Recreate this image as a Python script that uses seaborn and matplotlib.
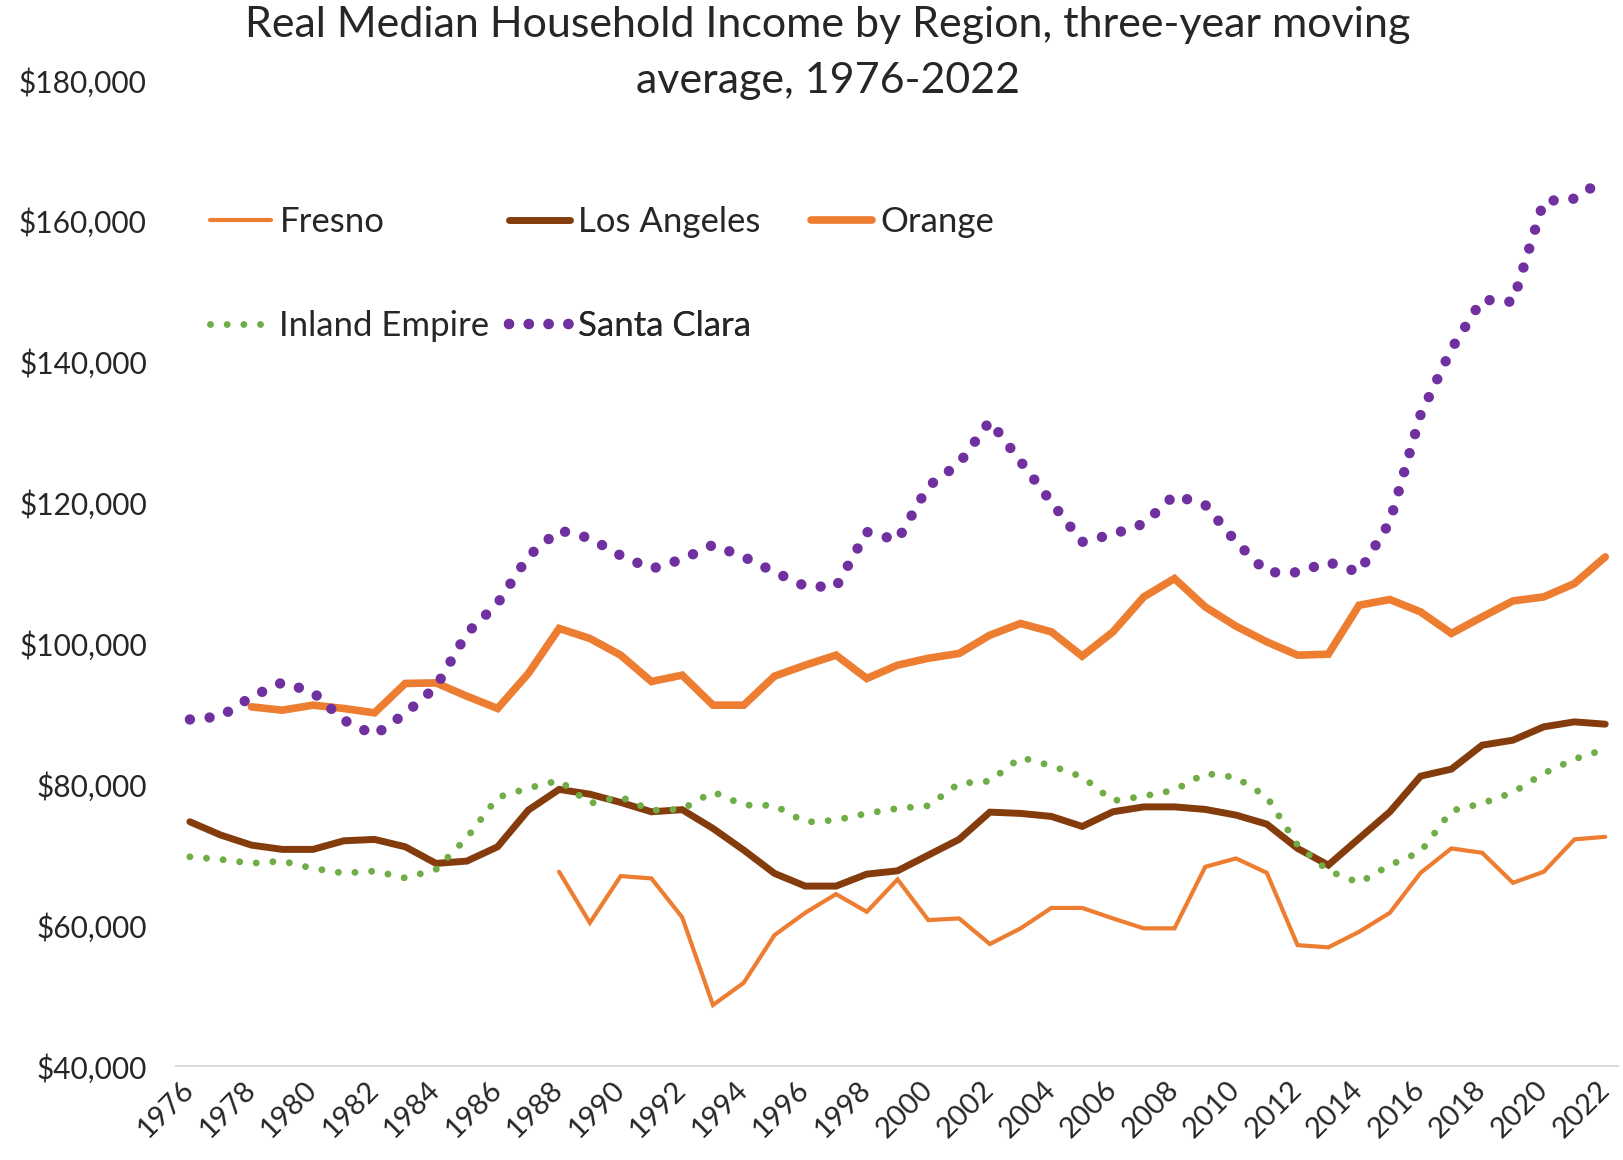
import numpy as np
import pandas as pd
import seaborn as sns
import matplotlib.pyplot as plt
from matplotlib.ticker import FixedLocator

# years on the x axis
years = list(range(1976, 2023))
nan = np.nan

# three-year moving averages
fresno = [nan] * 12 + [
    67580, 60340, 66970, 66640, 61110, 48660, 51820, 58590, 61760, 64410,
    61900, 66500, 60720, 60960, 57320, 59550, 62450, 62450, 60960, 59550,
    59550, 68290, 69480, 67440, 57170, 56850, 59060, 61760, 67440, 70900,
    70280, 66020, 67580, 72180, 72550]
los_angeles = [
    74680, 72800, 71370, 70760, 70760, 71980, 72180, 71130, 68770, 69100,
    71130, 76340, 79280, 78600, 77430, 76100, 76400, 73740, 70660, 67350,
    65550, 65550, 67250, 67720, 69950, 72180, 76050, 75870, 75440, 74020,
    76100, 76800, 76800, 76440, 75630, 74350, 70900, 68530, 72320, 76100,
    81160, 82160, 85560, 86270, 88160, 88870, 88540]
orange = [nan, nan,
    91000, 90530, 91240, 90770, 90150, 94320, 94400, 92520, 90770, 95740,
    102130, 100710, 98340, 94600, 95500, 91240, 91240, 95360, 96920, 98340,
    95030, 96920, 97900, 98580, 101180, 102840, 101650, 98200, 101650, 106610,
    109220, 105190, 102450, 100230, 98340, 98480, 105430, 106240, 104480, 101420,
    103770, 106040, 106610, 108510, 112290]
inland_empire = [
    69710, 69340, 68790, 69100, 68060, 67390, 67680, 66700, 67920, 72400,
    78140, 79460, 80550, 77290, 78220, 76300, 76480, 78930, 77050, 77000,
    74630, 74920, 75870, 76580, 76950, 80130, 80450, 83820, 82630, 81060,
    77660, 78320, 79180, 81550, 80980, 78220, 71370, 67720, 66020, 68530,
    70420, 76240, 77290, 78850, 81550, 83580, 85000]
santa_clara = [
    89210, 89640, 92420, 94460, 93090, 89110, 87000, 90060, 93840, 101440,
    105680, 112390, 116080, 114940, 112490, 110590, 111960, 113990, 112290, 110160,
    108130, 108030, 115840, 114660, 122330, 125550, 131590, 125830, 120050, 114420,
    115510, 117000, 121050, 119670, 114420, 110100, 110100, 111540, 110100, 117260,
    132500, 141800, 148830, 148490, 162780, 163160, 166000]

y_ticks = [40000, 60000, 80000, 100000, 120000, 140000, 160000, 180000]
x_ticks = list(range(1976, 2023, 2))

title = "Real Median Household Income by Region, three-year moving\naverage, 1976-2022"

FONT = ["Lato", "DejaVu Sans"]

sns.set_theme(style="white")
plt.rcParams["font.family"] = FONT

df = pd.DataFrame({
    "year": years,
    "Fresno": fresno,
    "Los Angeles": los_angeles,
    "Orange": orange,
    "Inland Empire": inland_empire,
    "Santa Clara": santa_clara,
})

fig = plt.figure(figsize=(16.24, 11.6), dpi=100)
ax = fig.add_axes([0.1084, 0.081, 0.888, 0.850])

# series styles: (colour, width, dashes or None)
styles = {
    "Fresno": ("#ED7D31", 3.0, None),
    "Los Angeles": ("#843C0C", 5.0, None),
    "Orange": ("#ED7D31", 5.5, None),
    "Inland Empire": ("#70AD47", 5.0, (0.001, 2.4)),
    "Santa Clara": ("#7030A0", 7.5, (0.001, 1.9)),
}

lines = {}
for name, (color, lw, dashes) in styles.items():
    sns.lineplot(data=df, x="year", y=name, ax=ax, color=color,
                 linewidth=lw, errorbar=None)
    ln = ax.lines[-1]
    if dashes is None:
        ln.set_solid_capstyle("round")
        ln.set_solid_joinstyle("miter")
    else:
        ln.set_linestyle((0, dashes))
        ln.set_dash_capstyle("round")
    lines[name] = ln

ax.set_xlim(1975.55, 2022.42)
ax.set_ylim(40000, 180000)
ax.yaxis.set_major_locator(FixedLocator(y_ticks))
ax.set_yticklabels(["${:,}".format(v) for v in y_ticks], fontsize=21.5)
ax.xaxis.set_major_locator(FixedLocator(x_ticks))
ax.set_xticklabels([str(y) for y in x_ticks], fontsize=21, rotation=45,
                   ha="right", va="center", rotation_mode="anchor")
ax.tick_params(axis="both", length=0)
ax.tick_params(axis="y", pad=21)
ax.tick_params(axis="x", pad=14)
ax.set_xlabel("")
ax.set_ylabel("")
ax.grid(False)

for side in ["top", "right", "left"]:
    ax.spines[side].set_visible(False)
ax.spines["bottom"].set_color("#D9D9D9")
ax.spines["bottom"].set_linewidth(1.5)

# legend: one entry per box so the columns sit where they do in the reference
legend_pos = {
    "Fresno": (210, 222),
    "Los Angeles": (509, 222),
    "Orange": (811, 222),
    "Inland Empire": (210, 326),
    "Santa Clara": (509, 326),
}
W, H = 1624, 1160
for name, (px, py) in legend_pos.items():
    leg = ax.legend([lines[name]], [name], loc="center left",
                    bbox_to_anchor=(px / W, 1 - py / H),
                    bbox_transform=fig.transFigure, frameon=False,
                    borderpad=0, borderaxespad=0, handlelength=1.75,
                    handletextpad=0.25, fontsize=25)
    ax.add_artist(leg)

fig.text(828 / W, 1 - 53 / H, title, ha="center", va="center",
         fontsize=31, linespacing=1.6)

fig.savefig("out.png", dpi=100)
